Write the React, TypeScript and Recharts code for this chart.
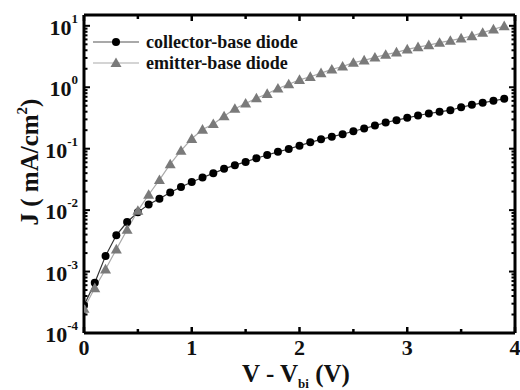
import React from 'react';
import { LineChart, Line, XAxis, YAxis, Legend } from 'recharts';

// bias (V - Vbi), 0.1 V steps
const V = [
  0, 0.1, 0.2, 0.3, 0.4, 0.5, 0.6, 0.7, 0.8, 0.9, 1.0, 1.1, 1.2, 1.3, 1.4, 1.5, 1.6, 1.7, 1.8, 1.9,
  2.0, 2.1, 2.2, 2.3, 2.4, 2.5, 2.6, 2.7, 2.8, 2.9, 3.0, 3.1, 3.2, 3.3, 3.4, 3.5, 3.6, 3.7, 3.8, 3.9,
];

// collector-base diode current density (mA/cm2)
const CB = [
  2.8e-4, 6.6e-4, 1.8e-3, 3.9e-3, 6.4e-3, 9.2e-3, 1.24e-2, 1.53e-2, 1.94e-2, 2.38e-2,
  2.87e-2, 3.4e-2, 3.97e-2, 4.7e-2, 5.4e-2, 6.1e-2, 7.0e-2, 7.9e-2, 8.9e-2, 9.9e-2,
  0.112, 0.127, 0.142, 0.157, 0.172, 0.192, 0.213, 0.238, 0.267, 0.291,
  0.318, 0.347, 0.374, 0.398, 0.423, 0.473, 0.518, 0.558, 0.603, 0.649,
];

// emitter-base diode current density (mA/cm2)
const EB = [
  2.5e-4, 5.4e-4, 1.09e-3, 2.3e-3, 4.8e-3, 9.8e-3, 1.78e-2, 3.1e-2, 5.6e-2, 9.3e-2,
  0.145, 0.205, 0.253, 0.338, 0.447, 0.545, 0.664, 0.783, 0.955, 1.12,
  1.32, 1.48, 1.70, 1.95, 2.18, 2.51, 2.74, 3.06, 3.39, 3.70,
  4.14, 4.51, 4.86, 5.32, 5.74, 6.25, 6.82, 7.74, 8.77, 9.93,
];

const SERIES_NAMES = ['collector-base diode', 'emitter-base diode'];

const Y_MAJOR = [1e-4, 1e-3, 1e-2, 1e-1, 1, 10];
const Y_EXP = ['-4', '-3', '-2', '-1', '0', '1'];
const X_TICKS = [0, 0.5, 1, 1.5, 2, 2.5, 3, 3.5, 4];
const X_LABELS = ['0', '1', '2', '3', '4'];

const data = V.map((v, i) => ({ v, cb: CB[i], eb: EB[i] }));

// minor log ticks 2..9 in each decade
const yMinor: number[] = [];
Y_MAJOR.forEach((d) => {
  for (let k = 2; k <= 9; k++) {
    if (d * k <= 15) yMinor.push(d * k);
  }
});
const yTicks = [...Y_MAJOR, ...yMinor].sort((a, b) => a - b);

const W = 520;
const H = 390;
const PLOT_LEFT = 84;
const PLOT_RIGHT = 515;
const PLOT_TOP = 15;
const PLOT_BOTTOM = 333;
const FONT = "'Liberation Serif', 'Times New Roman', 'DejaVu Serif', serif";
const txt: React.CSSProperties = { fontFamily: FONT, fontWeight: 'bold' };

const isMajor = (val: number) => Y_MAJOR.some((m) => Math.abs(m - val) / m < 1e-6);

const LeftTick = (props: any) => {
  const { y, payload } = props;
  const major = isMajor(payload.value);
  const idx = Y_MAJOR.findIndex((m) => Math.abs(m - payload.value) / m < 1e-6);
  return (
    <g>
      <line x1={PLOT_LEFT} x2={PLOT_LEFT + (major ? 6 : 3.5)} y1={y} y2={y} stroke="#000" strokeWidth={2} />
      {major && (
        <text x={78} y={y + 9} textAnchor="end" style={{ ...txt, fontSize: 22 }} fill="#111">
          10
          <tspan dy={-12} style={{ fontSize: 13 }}>
            {Y_EXP[idx]}
          </tspan>
        </text>
      )}
    </g>
  );
};

const RightTick = (props: any) => {
  const { y, payload } = props;
  const major = isMajor(payload.value);
  return (
    <line x1={PLOT_RIGHT} x2={PLOT_RIGHT - (major ? 6 : 3.5)} y1={y} y2={y} stroke="#000" strokeWidth={2} />
  );
};

const BottomTick = (props: any) => {
  const { x, payload } = props;
  const isInt = Number.isInteger(payload.value);
  return (
    <g>
      <line x1={x} x2={x} y1={PLOT_BOTTOM} y2={PLOT_BOTTOM - (isInt ? 6 : 4)} stroke="#000" strokeWidth={2.5} />
      {isInt && (
        <text x={x} y={PLOT_BOTTOM + 22} textAnchor="middle" style={{ ...txt, fontSize: 22 }} fill="#111">
          {X_LABELS[payload.value]}
        </text>
      )}
    </g>
  );
};

const TopTick = (props: any) => {
  const { x, payload } = props;
  const isInt = Number.isInteger(payload.value);
  return <line x1={x} x2={x} y1={PLOT_TOP} y2={PLOT_TOP + (isInt ? 6 : 4)} stroke="#000" strokeWidth={2.5} />;
};

const CircleDot = (props: any) => {
  const { cx, cy, index } = props;
  if (cx == null || cy == null) return <g key={index} />;
  return <circle key={index} cx={cx} cy={cy} r={4} fill="#000" />;
};

const TriDot = (props: any) => {
  const { cx, cy, index } = props;
  if (cx == null || cy == null) return <g key={index} />;
  const s = 5.5;
  return (
    <polygon
      key={index}
      points={`${cx},${cy - s} ${cx - s},${cy + s * 0.75} ${cx + s},${cy + s * 0.75}`}
      fill="#7a7a7a"
    />
  );
};

const LegendBox = () => (
  <svg width={240} height={46} style={{ display: 'block', overflow: 'visible' }}>
    <line x1={1} x2={47} y1={11} y2={11} stroke="#555" strokeWidth={1.2} />
    <circle cx={24} cy={11} r={4} fill="#000" />
    <text x={54} y={17} style={{ ...txt, fontSize: 18 }} fill="#111">
      {SERIES_NAMES[0]}
    </text>
    <line x1={1} x2={47} y1={32} y2={32} stroke="#aaa" strokeWidth={1.2} />
    <polygon points="24,26.5 18.5,36 29.5,36" fill="#7a7a7a" />
    <text x={54} y={38} style={{ ...txt, fontSize: 18 }} fill="#111">
      {SERIES_NAMES[1]}
    </text>
  </svg>
);

const YLabel = () => (
  <text transform={`translate(38, 162) rotate(-90)`} textAnchor="middle" style={{ ...txt, fontSize: 25 }} fill="#111">
    J ( mA/cm
    <tspan dy={-11} style={{ fontSize: 15 }}>
      2
    </tspan>
    <tspan dy={11}>)</tspan>
  </text>
);

const XLabel = () => (
  <text x={296} y={382} textAnchor="middle" style={{ ...txt, fontSize: 25 }} fill="#111">
    V - V
    <tspan dy={6} style={{ fontSize: 13 }}>
      bi
    </tspan>
    <tspan dy={-6}> (V)</tspan>
  </text>
);

export default function App() {
  return (
    <div style={{ position: 'absolute', left: 0, top: 0, background: '#fff' }}>
      <LineChart width={W} height={H} data={data} margin={{ top: 0, right: 0, bottom: 0, left: 0 }}>
        <XAxis
          xAxisId="top"
          orientation="top"
          dataKey="v"
          type="number"
          domain={[0, 4]}
          ticks={X_TICKS}
          interval={0}
          height={PLOT_TOP}
          allowDataOverflow
          axisLine={{ stroke: '#000', strokeWidth: 3 }}
          tickLine={false}
          tick={TopTick}
        />
        <XAxis
          xAxisId="bottom"
          dataKey="v"
          type="number"
          domain={[0, 4]}
          ticks={X_TICKS}
          interval={0}
          height={H - PLOT_BOTTOM}
          allowDataOverflow
          axisLine={{ stroke: '#000', strokeWidth: 3 }}
          tickLine={false}
          tick={BottomTick}
          label={{ content: XLabel }}
        />
        <YAxis
          yAxisId="left"
          scale="log"
          type="number"
          domain={[1e-4, 15]}
          ticks={yTicks}
          interval={0}
          width={PLOT_LEFT}
          allowDataOverflow
          axisLine={{ stroke: '#000', strokeWidth: 3 }}
          tickLine={false}
          tick={LeftTick}
          label={{ content: YLabel }}
        />
        <YAxis
          yAxisId="right"
          orientation="right"
          scale="log"
          type="number"
          domain={[1e-4, 15]}
          ticks={yTicks}
          interval={0}
          width={W - PLOT_RIGHT}
          allowDataOverflow
          axisLine={{ stroke: '#000', strokeWidth: 3 }}
          tickLine={false}
          tick={RightTick}
        />
        <Legend
          verticalAlign="top"
          align="left"
          content={LegendBox}
          wrapperStyle={{ position: 'absolute', left: 92, top: 31, width: 240, height: 0, overflow: 'visible' }}
        />
        <Line
          xAxisId="bottom"
          yAxisId="left"
          dataKey="cb"
          name={SERIES_NAMES[0]}
          stroke="#333"
          strokeWidth={1.2}
          dot={CircleDot}
          isAnimationActive={false}
        />
        <Line
          xAxisId="bottom"
          yAxisId="left"
          dataKey="eb"
          name={SERIES_NAMES[1]}
          stroke="#aaa"
          strokeWidth={1.2}
          dot={TriDot}
          isAnimationActive={false}
        />
      </LineChart>
    </div>
  );
}
